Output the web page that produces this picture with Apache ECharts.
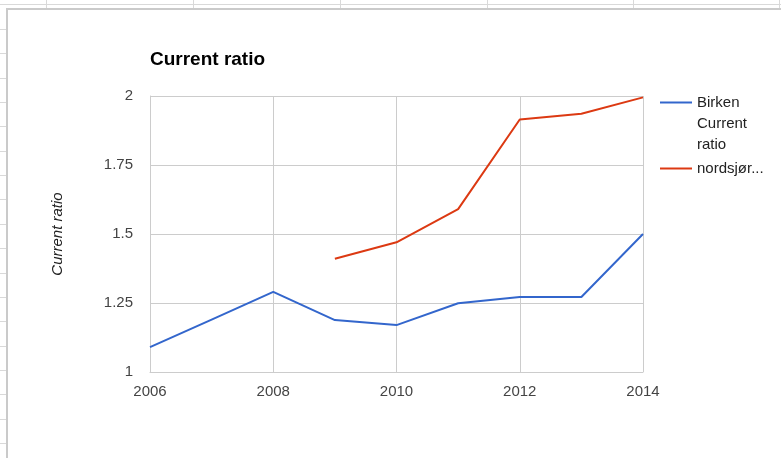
<!DOCTYPE html>
<html>
<head>
<meta charset="utf-8">
<script src="https://cdn.jsdelivr.net/npm/echarts@6/dist/echarts.min.js"></script>
<style>
  html, body { margin: 0; padding: 0; background: #fff; }
  #wrap { position: relative; width: 781px; height: 458px; overflow: hidden; background: #fff; }
  .sheet { position: absolute; background: #d9d9d9; }
  #box { position: absolute; left: 6px; top: 8px; right: -4px; bottom: -4px; background: #fff;
         border-left: 2px solid #cacaca; border-top: 2px solid #cacaca; }
  #main { position: absolute; left: 0; top: 0; width: 781px; height: 458px; }
</style>
</head>
<body>
<div id="wrap">
  <div id="bg"></div>
  <div id="box"></div>
  <div id="main"></div>
</div>
<script>
// ---- data ----
var years = [2006, 2007, 2008, 2009, 2010, 2011, 2012, 2013, 2014];
var birken = [1.09, 1.19, 1.29, 1.188, 1.17, 1.249, 1.272, 1.272, 1.5];
var nordsjor = [null, null, null, 1.41, 1.47, 1.59, 1.915, 1.936, 1.995];
var seriesNames = ['Birken Current ratio', 'nordsjør...'];
var yTicks = [1, 1.25, 1.5, 1.75, 2];
var xTicks = [2006, 2008, 2010, 2012, 2014];

// ---- spreadsheet background decoration ----
(function () {
  var bg = document.getElementById('bg');
  function add(l, t, w, h) {
    var d = document.createElement('div');
    d.className = 'sheet';
    d.style.left = l + 'px'; d.style.top = t + 'px';
    d.style.width = w + 'px'; d.style.height = h + 'px';
    bg.appendChild(d);
  }
  add(0, 4, 781, 1);
  [46, 193, 340, 487, 633, 779].forEach(function (x) { add(x, 0, 1, 9); });
  for (var y = 4.7 + 24.35; y < 458; y += 24.35) add(0, Math.round(y), 7, 1);
})();

function pairs(vals) {
  return years.map(function (y, i) { return vals[i] == null ? [y, null] : [y, vals[i]]; });
}

var FONT = 'Arial, "Liberation Sans", sans-serif';
var chart = echarts.init(document.getElementById('main'), null, { renderer: 'canvas' });
chart.setOption({
  backgroundColor: 'transparent',
  animation: false,
  title: {
    text: 'Current ratio',
    left: 150, top: 50,
    padding: 0,
    textStyle: { fontFamily: FONT, fontSize: 19, fontWeight: 'bold', color: '#000' }
  },
  legend: [
    {
      data: [seriesNames[0]],
      orient: 'vertical',
      left: 660, top: 50,
      padding: 0,
      icon: 'rect',
      itemWidth: 32, itemHeight: 2,
      formatter: function () { return '\n\nBirken\nCurrent\nratio'; },
      textStyle: { fontFamily: FONT, fontSize: 15, color: '#222', lineHeight: 21 }
    },
    {
      data: [seriesNames[1]],
      orient: 'vertical',
      left: 660, top: 158,
      padding: 0,
      icon: 'rect',
      itemWidth: 32, itemHeight: 2,
      textStyle: { fontFamily: FONT, fontSize: 15, color: '#222', lineHeight: 21 }
    }
  ],
  grid: { left: 150, right: 138, top: 96, bottom: 86, containLabel: false },
  xAxis: {
    type: 'value',
    min: xTicks[0], max: xTicks[xTicks.length - 1], interval: 2,
    axisLine: { show: true, lineStyle: { color: '#cccccc', width: 1 } },
    axisTick: { show: false },
    splitLine: { show: true, lineStyle: { color: '#cccccc', width: 1 } },
    axisLabel: { margin: 12, color: '#444', fontFamily: FONT, fontSize: 15,
                 formatter: function (v) { return String(v); } }
  },
  yAxis: {
    type: 'value',
    min: yTicks[0], max: yTicks[yTicks.length - 1], interval: 0.25,
    name: 'Current ratio',
    nameLocation: 'middle',
    nameGap: 85,
    nameTextStyle: { fontFamily: FONT, fontSize: 15, fontStyle: 'italic', color: '#222' },
    axisLine: { show: true, lineStyle: { color: '#cccccc', width: 1 } },
    axisTick: { show: false },
    splitLine: { show: true, lineStyle: { color: '#cccccc', width: 1 } },
    axisLabel: { margin: 17, color: '#444', fontFamily: FONT, fontSize: 15 }
  },
  series: [
    {
      name: seriesNames[0], type: 'line', data: pairs(birken),
      symbol: 'none', showSymbol: false,
      lineStyle: { color: '#3366cc', width: 2 }, itemStyle: { color: '#3366cc' }
    },
    {
      name: seriesNames[1], type: 'line', data: pairs(nordsjor),
      symbol: 'none', showSymbol: false, connectNulls: false,
      lineStyle: { color: '#dc3912', width: 2 }, itemStyle: { color: '#dc3912' }
    }
  ]
});
</script>
</body>
</html>
